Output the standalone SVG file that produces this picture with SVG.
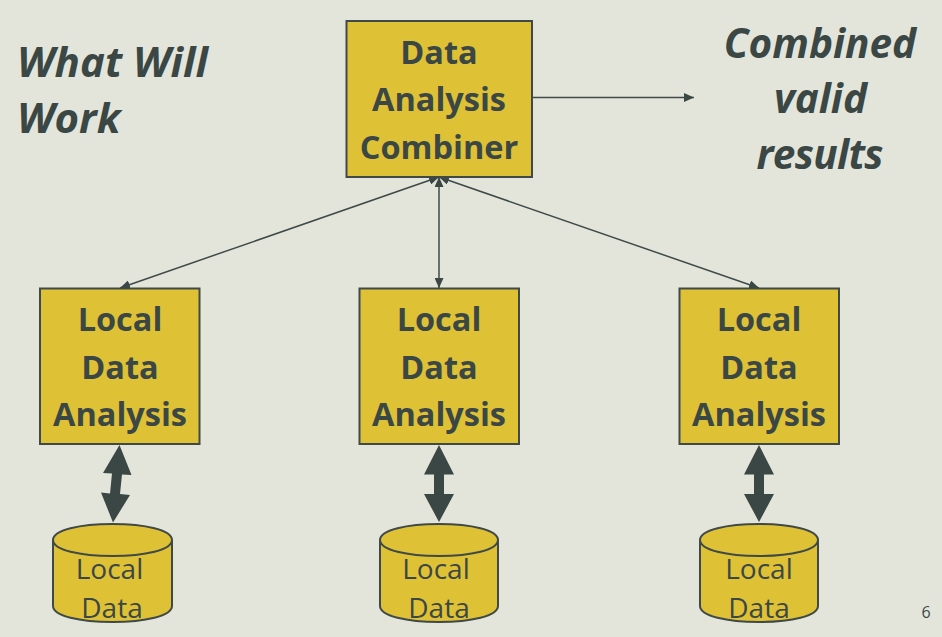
<svg xmlns="http://www.w3.org/2000/svg" width="942" height="637" viewBox="0 0 942 637">
<style>
.box{fill:#dfc136;stroke:#3f4a48;stroke-width:2}
.cyl{fill:#dfc136;stroke:#3f4a48;stroke-width:2}
.t{font-family:"Open Sans","Noto Sans","Liberation Sans",sans-serif;fill:#3b4745;text-anchor:middle}
.b{font-weight:700;font-size:32.500px}
.i{font-weight:700;font-style:italic;font-size:40.500px}
.h{font-weight:700;font-style:italic;font-size:42px;text-anchor:start}
.r{font-size:28px}
.c{fill:none;stroke:#3f4a48;stroke-width:1.5}
.f{fill:#3b4745;stroke:none}
</style>
<defs>
<marker id="a" viewBox="0 0 10 9" refX="10" refY="4.500" markerWidth="10" markerHeight="9" markerUnits="userSpaceOnUse" orient="auto-start-reverse"><path d="M0 0L10 4.500L0 9Z" fill="#3b4745"/></marker>
</defs>
<rect width="942" height="637" fill="#e3e5da"/>
<g id="connectors">
<path class="c" d="M533 97.500H694" marker-end="url(#a)"/>
<path class="c" d="M120 288L439 177" marker-start="url(#a)" marker-end="url(#a)"/>
<path class="c" d="M439 288V177" marker-start="url(#a)" marker-end="url(#a)"/>
<path class="c" d="M759 288L439 177" marker-start="url(#a)" marker-end="url(#a)"/>
<path class="f" d="M119.500 445L131.500 475L122 474.500L120 494L130 495L113 522.500L101 492.500L110 493.500L112 473.500L103 473Z"/>
<path class="f" d="M439 445L454 474.500L444 474.500L444 494L454 494L439 522L424 494L434 494L434 474.500L424 474.500Z"/>
<path class="f" d="M759 445L774 474.500L764 474.500L764 494L774 494L759 522L744 494L754 494L754 474.500L744 474.500Z"/>
</g>
<g id="title"><text class="t h" x="17" y="77">What Will</text><text class="t h" x="17" y="133">Work</text></g>
<g id="combiner"><rect class="box" x="346.500" y="21" width="185.500" height="156"/>
<text class="t b" x="439" y="64">Data</text><text class="t b" x="439" y="111">Analysis</text><text class="t b" x="439" y="159">Combiner</text></g>
<g id="results"><text class="t i" x="820" y="58">Combined</text><text class="t i" x="820.500" y="113">valid</text><text class="t i" x="820" y="169" textLength="127">results</text></g>
<g id="lda1"><rect class="box" x="40" y="288.500" width="159.500" height="155.500"/>
<text class="t b" x="120" y="331">Local</text><text class="t b" x="120" y="379">Data</text><text class="t b" x="120" y="426">Analysis</text></g>
<g id="lda2"><rect class="box" x="359.500" y="288.500" width="159.500" height="155.500"/>
<text class="t b" x="439" y="331">Local</text><text class="t b" x="439" y="379">Data</text><text class="t b" x="439" y="426">Analysis</text></g>
<g id="lda3"><rect class="box" x="679.500" y="288.500" width="159.500" height="155.500"/>
<text class="t b" x="759" y="331">Local</text><text class="t b" x="759" y="379">Data</text><text class="t b" x="759" y="426">Analysis</text></g>
<g id="db1"><path class="cyl" d="M53 540C53 530 80 524 112.500 524C145 524 172 530 172 540V606C172 616 145 622 112.500 622C80 622 53 616 53 606Z"/><path class="cyl" d="M53 540C53 550 80 556 112.500 556C145 556 172 550 172 540"/>
<text class="t r" x="109.500" y="579">Local</text><text class="t r" x="112" y="618">Data</text></g>
<g id="db2"><path class="cyl" d="M380 540C380 530 407 524 439 524C471 524 498 530 498 540V606C498 616 471 622 439 622C407 622 380 616 380 606Z"/><path class="cyl" d="M380 540C380 550 407 556 439 556C471 556 498 550 498 540"/>
<text class="t r" x="436" y="579">Local</text><text class="t r" x="439" y="618">Data</text></g>
<g id="db3"><path class="cyl" d="M700 540C700 530 727 524 759 524C791 524 818 530 818 540V606C818 616 791 622 759 622C727 622 700 616 700 606Z"/><path class="cyl" d="M700 540C700 550 727 556 759 556C791 556 818 550 818 540"/>
<text class="t r" x="759" y="579">Local</text><text class="t r" x="759" y="618">Data</text></g>
<text class="t" x="926" y="618" font-size="16">6</text>
</svg>
